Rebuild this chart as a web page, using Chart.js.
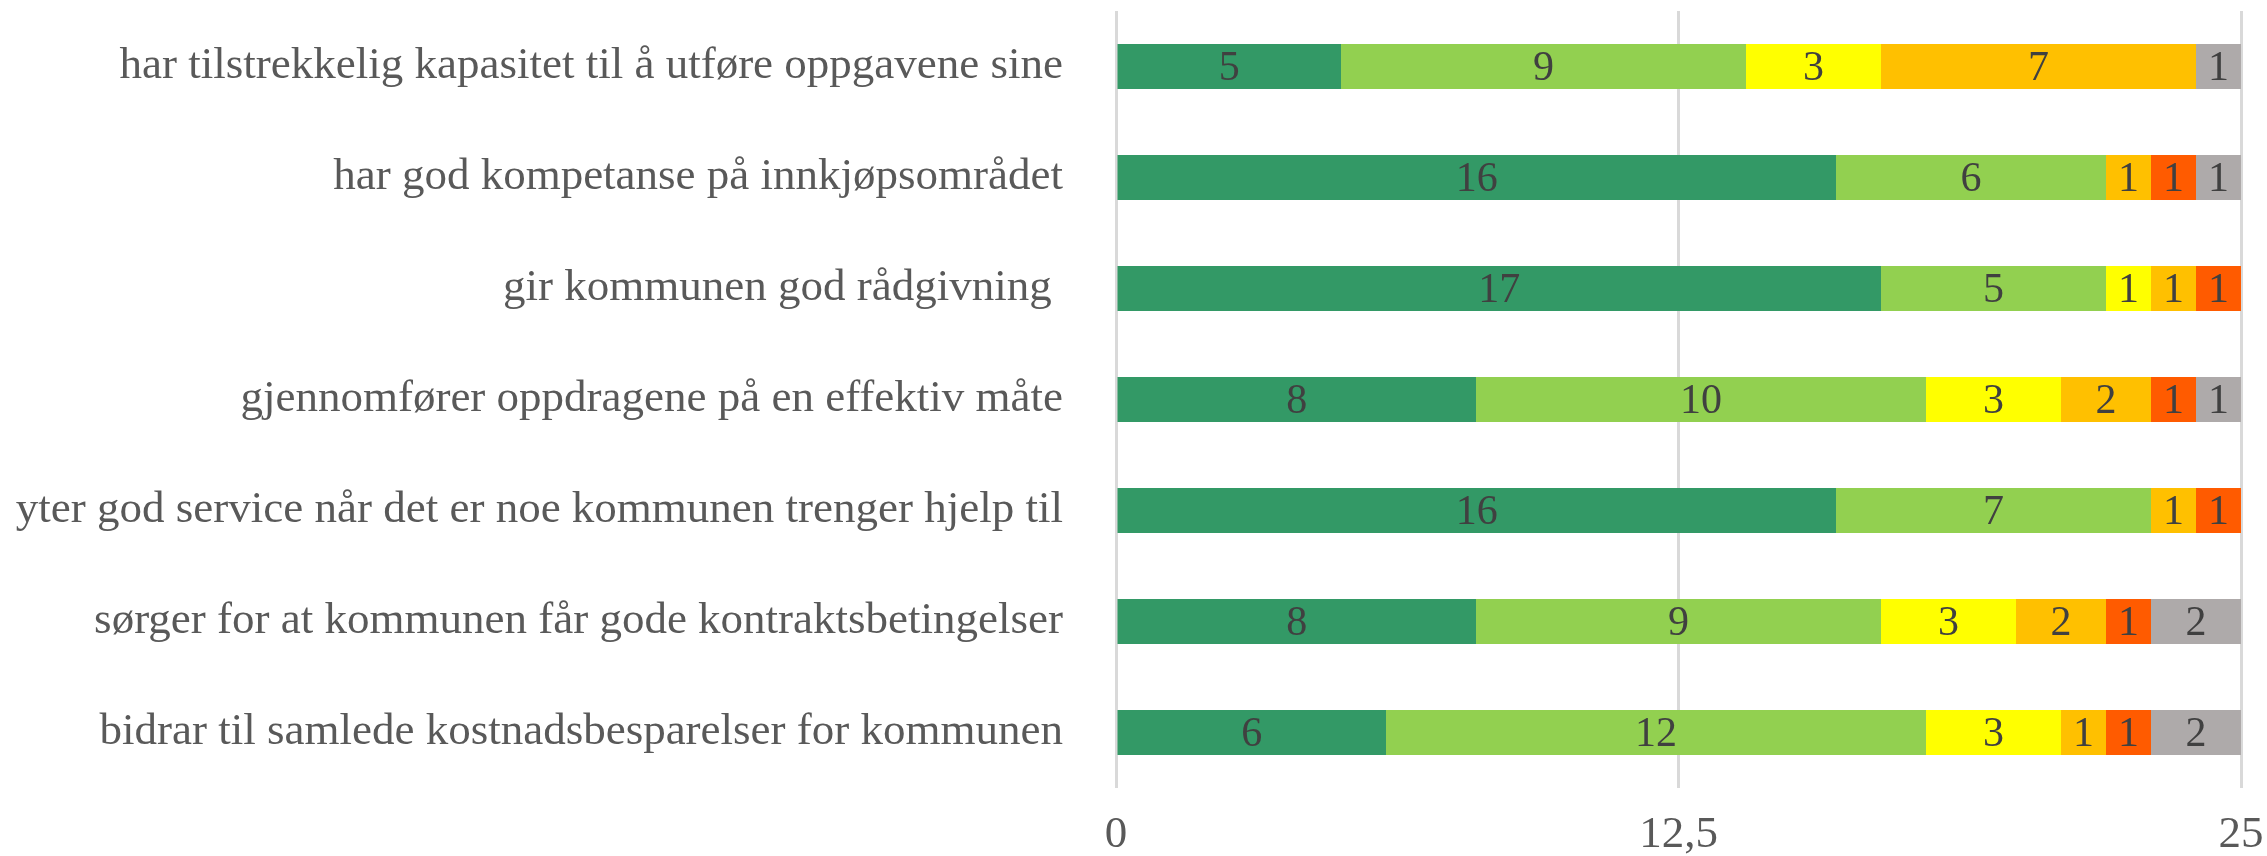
<!DOCTYPE html>
<html>
<head>
<meta charset="utf-8">
<script src="https://cdn.jsdelivr.net/npm/chart.js@4.4.1/dist/chart.umd.min.js"></script>
<style>
  html, body { margin: 0; padding: 0; background: #fff; }
  #wrap { width: 2267px; height: 856px; }
</style>
</head>
<body>
<div id="wrap"><canvas id="myChart" width="2267" height="856"></canvas></div>
<script>
"use strict";

// Data

const categories = [
  "har tilstrekkelig kapasitet til å utføre oppgavene sine",
  "har god kompetanse på innkjøpsområdet",
  "gir kommunen god rådgivning ",
  "gjennomfører oppdragene på en effektiv måte",
  "yter god service når det er noe kommunen trenger hjelp til",
  "sørger for at kommunen får gode kontraktsbetingelser",
  "bidrar til samlede kostnadsbesparelser for kommunen",
];

const darkGreen = [5, 16, 17, 8, 16, 8, 6];
const lightGreen = [9, 6, 5, 10, 7, 9, 12];
const yellow = [3, 0, 1, 3, 0, 3, 3];
const orange = [7, 1, 1, 2, 1, 2, 1];
const red = [0, 1, 1, 1, 1, 1, 1];
const gray = [1, 1, 0, 1, 0, 2, 2];

const xTicks = [0, 12.5, 25];

const seriesColors = ["#339966", "#92D050", "#FFFF00", "#FFC000", "#FF5B00", "#AEAAAA"];

const FONT = "'Liberation Serif', 'Times New Roman', serif";

// Draw value labels in the middle of each bar segment

const barLabels = {
  id: "barLabels",
  afterDatasetsDraw(chart) {
    const ctx = chart.ctx;
    ctx.save();
    ctx.font = `42px ${FONT}`;
    ctx.fillStyle = "#404040";
    ctx.textAlign = "center";
    ctx.textBaseline = "middle";
    chart.data.datasets.forEach((ds, i) => {
      chart.getDatasetMeta(i).data.forEach((bar, j) => {
        const v = ds.data[j];
        if (!v) return;
        const cx = (bar.x + bar.base) / 2;
        ctx.fillText(String(v), cx, bar.y + 2);
      });
    });
    ctx.restore();
  },
};

const datasets = [darkGreen, lightGreen, yellow, orange, red, gray].map((d, i) => ({
  label: `s${i + 1}`,
  data: d,
  backgroundColor: seriesColors[i],
  borderWidth: 0,
  barPercentage: 0.405,
  categoryPercentage: 1,
}));

const ctx = document.getElementById("myChart").getContext("2d");
const myChart = new Chart(ctx, {
  type: "bar",
  data: { labels: categories, datasets: datasets },
  plugins: [barLabels],
  options: {
    indexAxis: "y",
    responsive: false,
    animation: false,
    layout: { padding: { top: 11, right: 26, left: 0, bottom: 0 } },
    plugins: { legend: { display: false }, tooltip: { enabled: false } },
    scales: {
      x: {
        stacked: true,
        min: 0,
        max: 25,
        afterBuildTicks: (scale) => {
          scale.ticks = xTicks.map((v) => ({ value: v }));
        },
        afterFit: (scale) => {
          scale.height = 68;
          scale.paddingLeft = 0;
          scale.paddingRight = 0;
        },
        grid: { color: "#d9d9d9", lineWidth: 3, drawTicks: false },
        border: { display: false },
        ticks: {
          padding: 20,
          color: "#595959",
          font: { family: FONT, size: 45 },
          callback: (v) => String(v).replace(".", ","),
        },
      },
      y: {
        stacked: true,
        afterFit: (scale) => {
          scale.width = 1116;
          scale.paddingTop = 0;
          scale.paddingBottom = 0;
        },
        grid: { display: false },
        border: { display: false },
        ticks: {
          padding: 45,
          color: "#595959",
          font: { family: FONT, size: 45 },
        },
      },
    },
  },
});
</script>
</body>
</html>
